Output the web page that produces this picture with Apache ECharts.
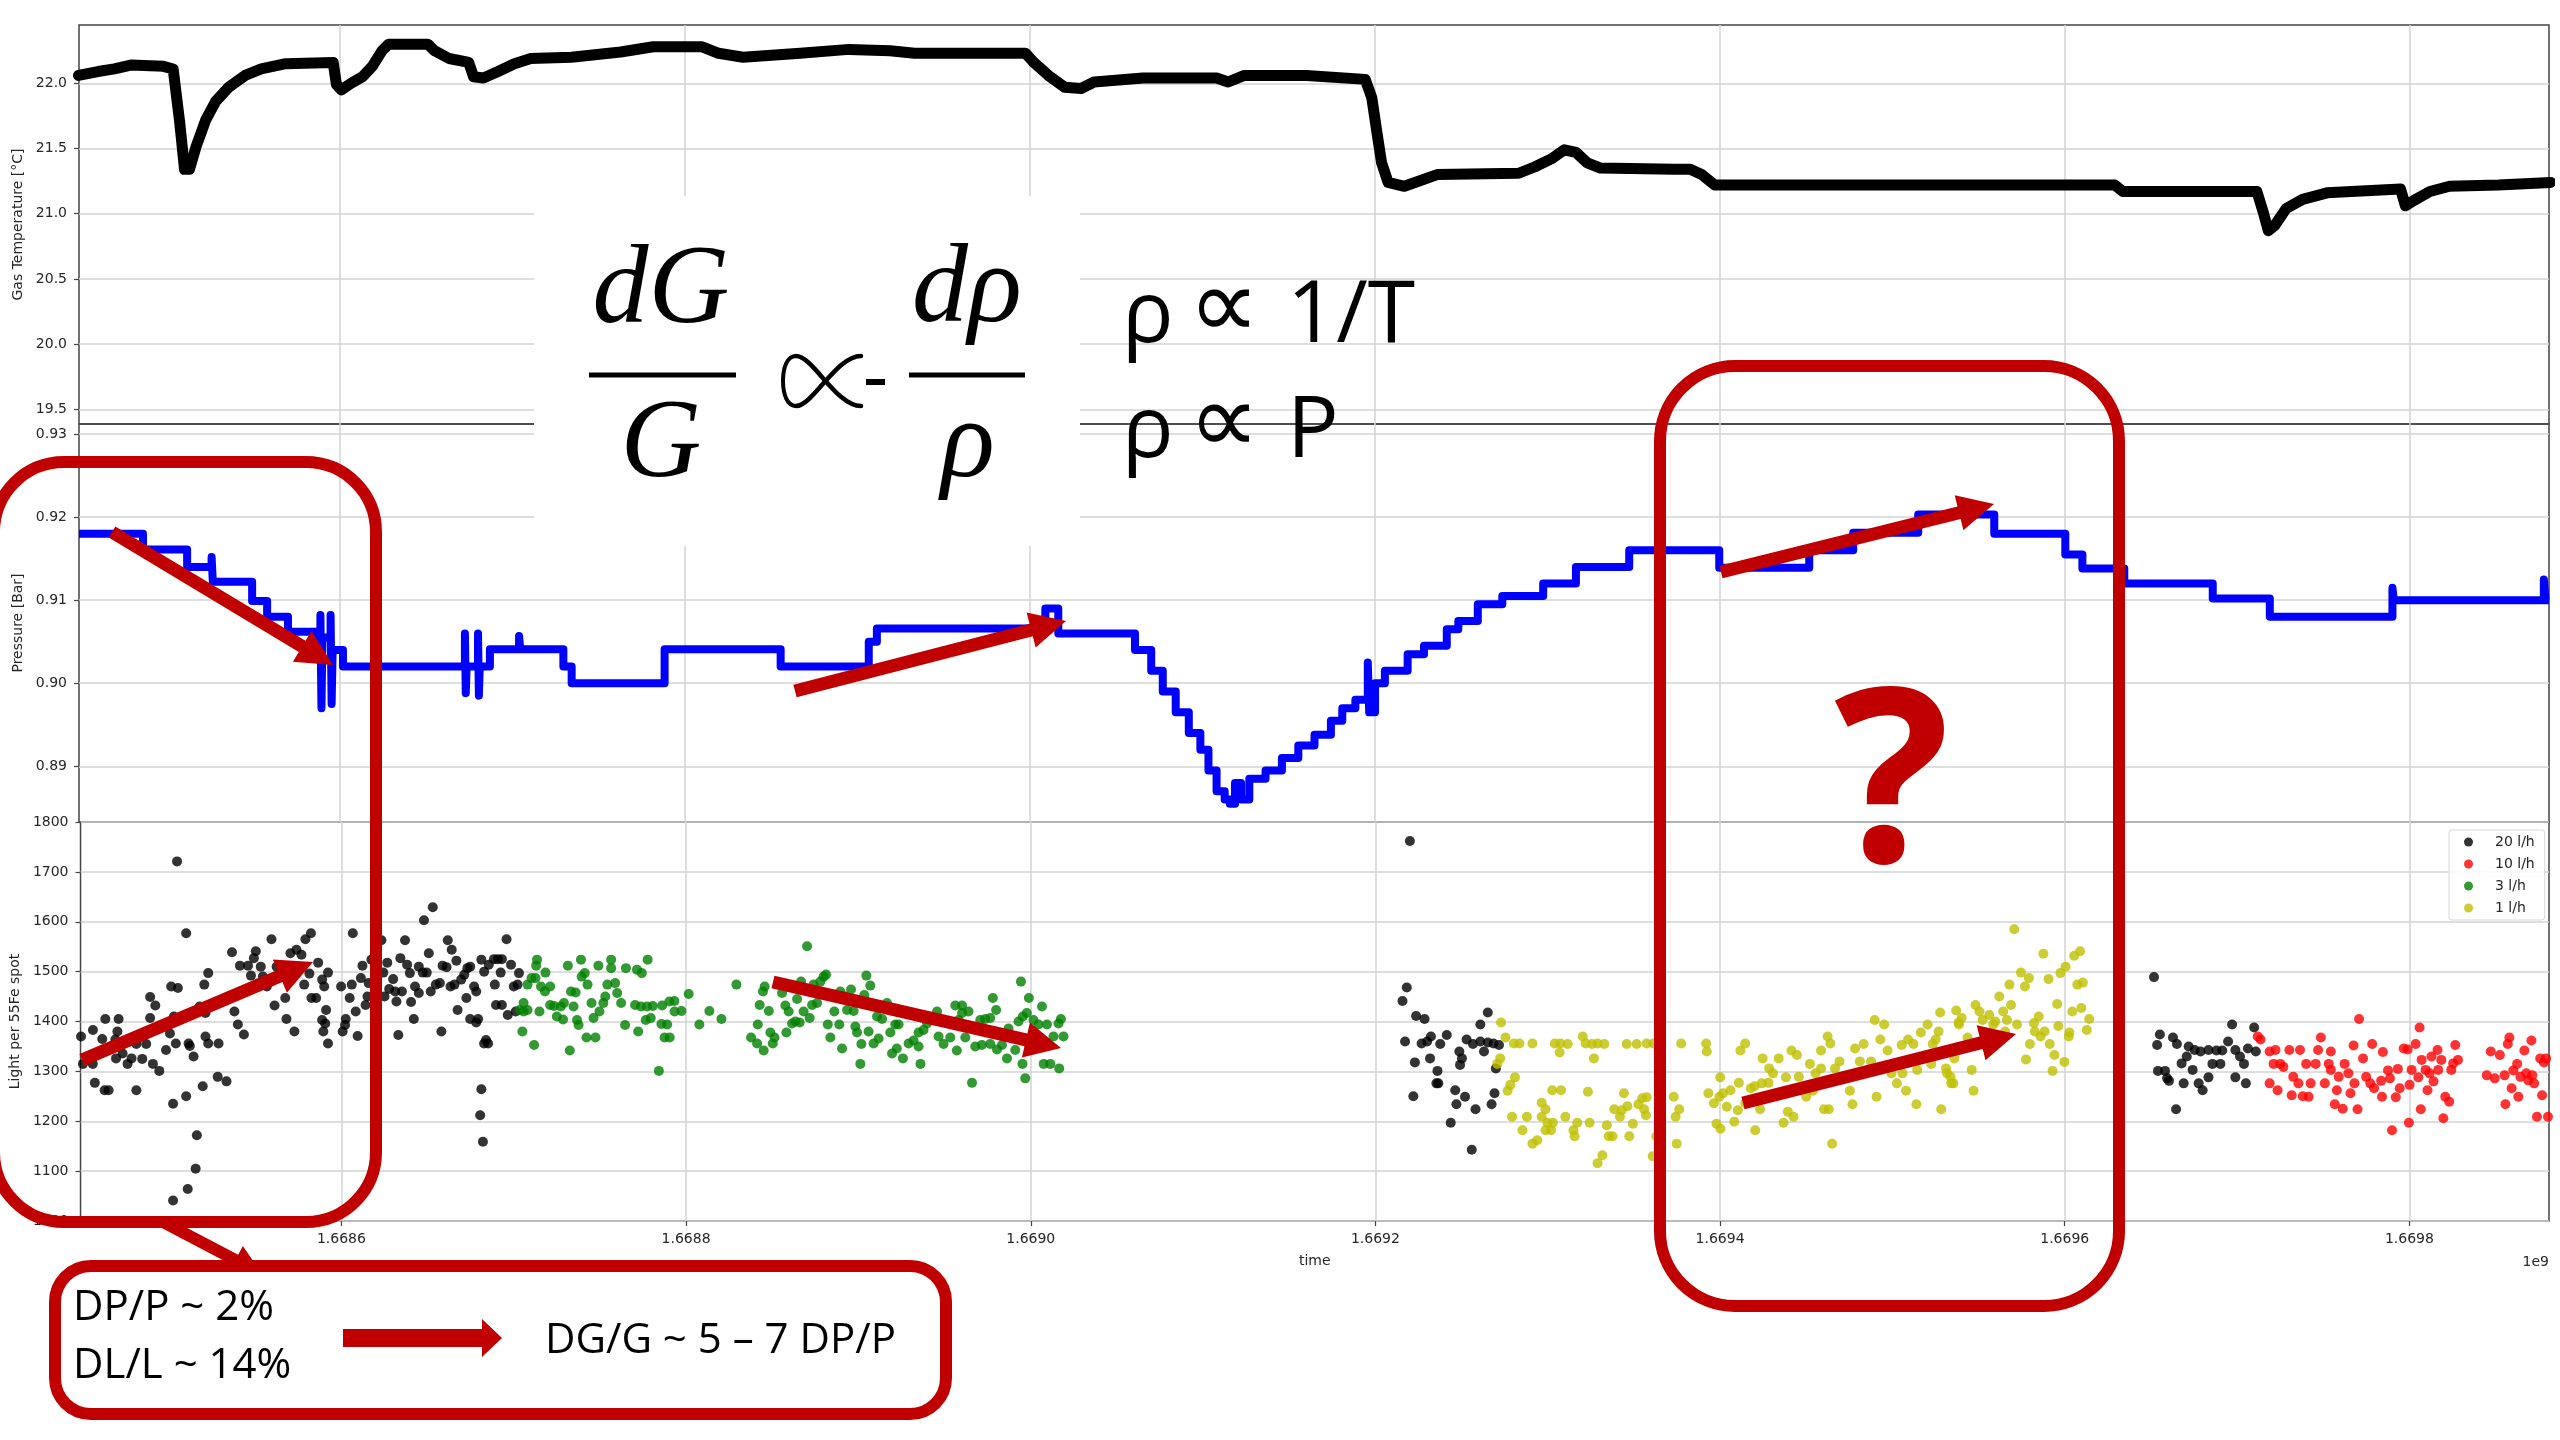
<!DOCTYPE html>
<html>
<head>
<meta charset="utf-8">
<script src="https://cdn.jsdelivr.net/npm/echarts@6/dist/echarts.min.js"></script>
<style>html,body{margin:0;padding:0;background:#fff}#c{width:2560px;height:1440px}</style>
</head>
<body>
<div id="c"></div>
<script>
// time axis: kiloseconds after 1.6684e9 s
const X_MIN = 48.6, X_MAX = 1481;
const xTicks = [200, 400, 600, 800, 1000, 1200, 1400];
const tempTicks = [19.5, 20.0, 20.5, 21.0, 21.5, 22.0];
const pressTicks = [0.89, 0.90, 0.91, 0.92, 0.93];
const lightTicks = [1000, 1100, 1200, 1300, 1400, 1500, 1600, 1700, 1800];

const gasTemp = [[48.3,22.06],[59.6,22.09],[69.1,22.11],[78.6,22.14],[97.5,22.13],[103.2,22.11],[107.0,21.70],[109.8,21.34],[112.7,21.34],[116.4,21.51],[122.1,21.72],[127.8,21.86],[135.4,21.97],[144.9,22.06],[154.3,22.11],[168.5,22.15],[196.0,22.16],[197.9,21.99],[200.7,21.95],[206.4,22.00],[213.0,22.05],[218.7,22.13],[224.4,22.25],[228.2,22.30],[250.9,22.30],[254.7,22.25],[263.2,22.19],[274.6,22.16],[277.4,22.05],[283.1,22.04],[291.6,22.09],[301.1,22.15],[310.6,22.19],[334.2,22.20],[362.7,22.24],[381.6,22.28],[410.0,22.28],[419.5,22.23],[433.7,22.20],[466.8,22.23],[495.2,22.26],[518.9,22.25],[533.1,22.23],[597.5,22.23],[602.3,22.16],[610.8,22.06],[620.2,21.97],[629.7,21.96],[637.3,22.01],[665.7,22.04],[708.3,22.04],[715.0,22.01],[724.4,22.06],[760.4,22.06],[794.5,22.03],[798.3,21.89],[801.1,21.64],[804.0,21.39],[807.8,21.24],[817.2,21.21],[836.2,21.30],[883.5,21.31],[893.0,21.36],[902.4,21.42],[910.0,21.49],[916.7,21.47],[923.3,21.39],[930.9,21.35],[973.5,21.34],[983.0,21.34],[989.6,21.30],[997.2,21.22],[1229.2,21.22],[1233.9,21.17],[1311.6,21.17],[1315.3,21.01],[1318.2,20.87],[1322.0,20.91],[1328.6,21.04],[1338.1,21.11],[1352.3,21.16],[1394.9,21.19],[1397.7,21.06],[1402.5,21.10],[1411.9,21.17],[1423.3,21.21],[1451.7,21.22],[1482.0,21.24]];

const pressure = [[48.6,0.918],[85.7,0.9161],[111.3,0.914],[125.5,0.9152],[126.2,0.9122],[149.0,0.9099],[157.7,0.908],[169.8,0.9062],[186.0,0.9055],[188.6,0.9082],[189.2,0.897],[189.8,0.9055],[194.5,0.9082],[195.1,0.8975],[195.7,0.904],[201.7,0.902],[272.4,0.906],[272.9,0.8988],[273.4,0.902],[280.0,0.906],[280.5,0.8985],[281.0,0.902],[286.9,0.9041],[303.8,0.9057],[304.5,0.9041],[329.5,0.902],[334.3,0.900],[388.2,0.9041],[455.5,0.902],[506.6,0.905],[511.3,0.9066],[609.0,0.909],[616.5,0.906],[661.0,0.904],[670.4,0.9015],[677.1,0.899],[684.6,0.8965],[692.2,0.894],[698.9,0.892],[703.6,0.8895],[708.3,0.887],[713.0,0.886],[716.0,0.8855],[719.0,0.888],[722.5,0.886],[727.3,0.8885],[736.7,0.8895],[746.2,0.891],[755.7,0.8925],[765.1,0.8938],[774.6,0.8955],[781.2,0.897],[788.8,0.898],[796.0,0.9025],[796.8,0.8965],[800.2,0.900],[805.9,0.9015],[819.1,0.9035],[828.6,0.9045],[841.8,0.9065],[848.5,0.9075],[859.8,0.9095],[874.0,0.9105],[897.7,0.912],[916.7,0.914],[947.6,0.916],[999.8,0.9139],[1052.0,0.916],[1077.5,0.9181],[1115.2,0.9203],[1159.3,0.918],[1200.5,0.9155],[1210.4,0.9138],[1234.7,0.912],[1286.0,0.9102],[1319.1,0.908],[1390.2,0.9115],[1391.0,0.910],[1478.0,0.9125],[1479.0,0.910],[1481.0,0.910]];

const flow20 = [[104.6,1721],[109.9,1577],[102.3,1041],[110.8,1064],[115.4,1105],[116.1,1172],[102.3,1235],[109.9,1250],[119.5,1270],[128.2,1289],[133.3,1280],[56.9,1277],[62.6,1262],[64.9,1262],[81.0,1262],[48.9,1370],[50.0,1315],[55.7,1315],[55.8,1383],[61.2,1365],[63.0,1405],[68.8,1364],[69.2,1326],[70.7,1405],[70.0,1380],[73.0,1336],[75.9,1315],[78.2,1326],[81.0,1355],[84.4,1325],[86.7,1355],[89.0,1407],[89.0,1449],[92.0,1432],[90.6,1315],[94.3,1301],[98.2,1343],[100.5,1376],[101.2,1470],[105.1,1467],[102.8,1410],[103.9,1356],[111.3,1356],[112.0,1351],[114.2,1330],[117.7,1430],[120.4,1474],[121.1,1417],[121.1,1370],[122.7,1356],[122.7,1497],[128.7,1356],[136.5,1539],[137.9,1420],[139.9,1394],[143.4,1374],[141.1,1512],[145.8,1512],[147.5,1492],[150.3,1541],[149.2,1527],[153.2,1510],[154.4,1490],[151.6,1476],[156.7,1470],[159.0,1480],[159.4,1565],[161.2,1432],[162.4,1510],[168.1,1405],[167.4,1447],[170.4,1537],[173.9,1544],[176.8,1534],[172.7,1380],[179.1,1565],[182.3,1577],[178.4,1474],[181.4,1496],[182.6,1447],[185.3,1447],[186.5,1518],[188.8,1484],[190.0,1470],[192.2,1498],[191.1,1423],[188.8,1403],[190.6,1396],[189.5,1380],[192.2,1356],[199.8,1470],[200.7,1380],[202.5,1405],[202.1,1393],[204.8,1447],[206.0,1474],[206.6,1577],[208.3,1420],[209.4,1371],[211.3,1487],[212.2,1512],[214.0,1433],[215.1,1450],[215.8,1477],[217.4,1524],[223.2,1563],[224.3,1498],[225.0,1450],[226.6,1518],[227.7,1465],[230.0,1485],[231.2,1460],[231.9,1440],[233.0,1373],[234.2,1527],[235.1,1460],[236.9,1563],[238.1,1514],[239.7,1497],[240.4,1439],[242.0,1405],[242.7,1470],[244.9,1510],[247.2,1498],[249.5,1498],[244.9,1457],[247.9,1603],[253.0,1629],[250.7,1537],[251.8,1460],[254.8,1474],[257.1,1477],[258.0,1380],[258.7,1512],[261.0,1509],[261.7,1563],[264.0,1544],[263.3,1470],[265.6,1474],[266.7,1522],[267.4,1423],[269.5,1484],[271.3,1494],[273.1,1507],[274.7,1510],[272.5,1447],[274.7,1405],[278.2,1398],[279.3,1405],[277.0,1470],[278.2,1460],[281.2,1524],[282.8,1500],[283.9,1363],[285.1,1356],[282.8,1356],[281.2,1264],[280.5,1212],[282.1,1159],[285.5,1514],[288.5,1525],[290.8,1525],[293.1,1525],[289.0,1474],[289.7,1433],[293.1,1433],[292.4,1498],[295.8,1565],[296.5,1413],[298.4,1514],[300.0,1470],[302.2,1474],[301.1,1420],[303.0,1497],
[820.0,1762],[818.2,1468],[815.7,1441],[823.6,1411],[828.5,1405],[817.2,1360],[826.8,1356],[830.0,1360],[832.2,1370],[837.6,1355],[841.4,1373],[822.9,1318],[831.7,1326],[836.0,1301],[835.4,1276],[836.5,1276],[822.0,1250],[846.3,1262],[847.0,1234],[852.0,1249],[858.1,1224],[843.7,1197],[855.9,1143],[848.7,1340],[850.2,1326],[849.1,1313],[852.9,1364],[856.6,1355],[860.9,1360],[865.2,1358],[868.5,1356],[871.7,1353],[860.9,1394],[865.2,1418],[863.0,1340],[869.9,1306],[869.1,1256],[867.4,1234],
[1251.8,1489],[1255.2,1374],[1253.6,1353],[1262.8,1368],[1265.1,1355],[1254.1,1301],[1258.2,1301],[1259.4,1286],[1260.5,1281],[1269.0,1276],[1264.6,1224],[1267.8,1316],[1270.8,1330],[1271.9,1350],[1275.4,1343],[1278.8,1340],[1283.4,1343],[1288.0,1342],[1291.4,1342],[1274.2,1303],[1277.7,1276],[1280.0,1262],[1283.4,1288],[1285.7,1315],[1290.3,1315],[1297.1,1394],[1294.8,1360],[1299.0,1343],[1301.7,1330],[1304.0,1315],[1299.0,1288],[1305.1,1276],[1306.3,1346],[1309.9,1388],[1310.9,1340]];

const flow10 = [[1312.0,1370],[1313.6,1364],[1318.9,1340],[1321.2,1315],[1322.3,1343],[1325.1,1315],[1326.9,1309],[1318.9,1276],[1323.5,1262],[1330.3,1343],[1332.6,1289],[1335.6,1276],[1336.5,1343],[1331.7,1252],[1338.1,1250],[1341.5,1249],[1342.7,1276],[1340.1,1315],[1345.6,1315],[1347.0,1343],[1348.6,1368],[1350.9,1276],[1353.2,1315],[1354.4,1340],[1354.4,1303],[1357.9,1262],[1356.7,1234],[1361.3,1225],[1359.0,1289],[1362.4,1315],[1364.6,1296],[1365.8,1256],[1367.6,1352],[1368.1,1276],[1369.9,1224],[1370.8,1405],[1373.1,1326],[1374.9,1289],[1377.3,1276],[1378.4,1355],[1379.5,1266],[1383.6,1281],[1384.6,1339],[1387.6,1302],[1388.7,1286],[1384.1,1249],[1389.9,1182],[1392.1,1248],[1393.3,1305],[1394.4,1266],[1396.7,1346],[1399.0,1344],[1399.7,1197],[1400.1,1273],[1401.3,1303],[1403.6,1355],[1405.9,1388],[1406.6,1224],[1405.2,1288],[1407.1,1323],[1409.4,1303],[1410.5,1262],[1411.7,1296],[1412.8,1330],[1414.0,1280],[1416.3,1343],[1416.7,1303],[1418.5,1323],[1419.7,1206],[1420.8,1249],[1423.1,1239],[1424.3,1303],[1425.4,1316],[1426.6,1353],[1428.2,1323],[1444.9,1292],[1447.2,1340],[1449.5,1286],[1452.5,1333],[1455.2,1292],[1455.7,1234],[1457.1,1355],[1458.0,1368],[1459.3,1266],[1460.3,1302],[1462.5,1315],[1463.2,1249],[1464.4,1289],[1466.7,1342],[1467.8,1296],[1469.0,1282],[1470.8,1362],[1471.3,1292],[1472.4,1276],[1474.0,1209],[1475.9,1326],[1477.0,1252],[1478.1,1318],[1479.3,1326],[1480.4,1209]];

const flow3 = [[303.4,1423],[305.7,1437],[305.7,1420],[308.0,1423],[305.0,1380],[308.0,1474],[310.3,1487],[312.6,1487],[311.8,1353],[313.0,1512],[313.5,1524],[314.9,1420],[315.8,1470],[318.1,1460],[321.1,1470],[318.4,1498],[321.1,1433],[323.4,1431],[325.0,1410],[327.3,1430],[329.1,1437],[328.6,1404],[331.4,1512],[332.5,1342],[333.2,1460],[335.9,1458],[334.7,1430],[336.7,1403],[337.6,1393],[339.0,1524],[339.4,1490],[341.2,1497],[342.8,1474],[342.2,1368],[347.4,1368],[345.1,1437],[346.3,1407],[349.1,1512],[349.7,1420],[352.0,1437],[353.1,1450],[354.3,1474],[358.8,1477],[356.5,1507],[356.5,1524],[360.0,1457],[362.3,1437],[364.6,1393],[365.1,1507],[370.4,1433],[373.8,1430],[377.3,1430],[380.7,1431],[371.5,1504],[374.3,1497],[372.2,1380],[377.7,1524],[376.6,1403],[379.5,1407],[384.2,1301],[385.7,1395],[387.5,1368],[390.3,1440],[393.3,1420],
[386.1,1432],[389.0,1394],[390.5,1368],[393.2,1441],[397.3,1421],[401.5,1455],[407.7,1394],[413.5,1421],[420.5,1405],[429.2,1474],[437.7,1368],[441.2,1356],[445.0,1342],[441.6,1394],[442.7,1433],[444.6,1460],[445.6,1470],[448.0,1421],[450.3,1356],[451.3,1368],[448.9,1378],[455.7,1457],[457.6,1432],[458.2,1378],[459.5,1420],[461.5,1396],[463.4,1400],[465.9,1398],[464.4,1445],[466.7,1480],[468.2,1420],[471.7,1407],[470.2,1551],[473.1,1433],[476.0,1437],[474.0,1474],[477.9,1480],[479.8,1490],[481.2,1494],[482.2,1394],[483.7,1368],[486.0,1420],[489.5,1460],[492.4,1450],[488.9,1394],[490.5,1346],[493.4,1423],[495.7,1464],[497.2,1421],[498.2,1390],[499.2,1378],[501.1,1315],[501.7,1355],[503.4,1453],[504.6,1492],[506.9,1472],[505.9,1380],[508.8,1356],[511.7,1366],[510.8,1410],[513.7,1405],[516.6,1437],[518.5,1378],[521.4,1394],[523.3,1394],[519.5,1336],[522.3,1346],[525.8,1326],[529.1,1356],[532.0,1362],[534.9,1378],[537.8,1383],[534.9,1350],[536.0,1315],[539.8,1396],[542.7,1403],[545.6,1420],[546.5,1370],[549.4,1355],[553.3,1368],[557.1,1342],[558.1,1403],[560.1,1417],[556.2,1432],[560.1,1432],[562.0,1368],[563.9,1420],[565.9,1277],[567.8,1350],[570.7,1403],[573.6,1405],[576.5,1407],[571.6,1353],[576.5,1355],[580.4,1344],[583.3,1353],[578.0,1447],[579.9,1423],[586.2,1326],[587.1,1386],[591.0,1343],[592.9,1400],[595.4,1410],[597.7,1417],[594.3,1480],[595.2,1315],[596.8,1286],[598.9,1447],[601.6,1403],[604.5,1394],[609.4,1394],[606.5,1430],[607.5,1315],[611.3,1315],[616.5,1306],[613.2,1370],[616.1,1396],[617.5,1405],[619.0,1370]];

const flow1 = [[872.9,1398],[875.5,1368],[872.4,1326],[870.7,1315],[880.4,1356],[883.6,1356],[891.1,1356],[881.0,1288],[878.3,1273],[876.7,1261],[879.3,1209],[885.3,1182],[887.9,1209],[891.1,1155],[893.9,1162],[896.5,1237],[898.7,1224],[896.5,1209],[899.8,1197],[903.0,1197],[898.7,1182],[901.9,1182],[902.6,1262],[907.7,1262],[904.1,1356],[907.3,1356],[911.6,1355],[906.9,1338],[910.2,1209],[914.9,1182],[915.6,1170],[917.1,1197],[920.3,1370],[922.0,1356],[925.7,1355],[928.9,1356],[932.8,1355],[926.8,1326],[923.3,1259],[924.3,1197],[928.9,1116],[931.7,1132],[934.3,1192],[935.4,1170],[937.6,1170],[938.6,1224],[941.9,1209],[942.9,1222],[946.2,1230],[944.2,1256],[945.8,1355],[951.6,1355],[947.3,1170],[949.4,1195],[952.6,1234],[954.8,1246],[957.4,1248],[955.9,1224],[957.0,1212],[957.4,1356],[961.3,1356],[960.9,1130],[963.0,1170],[964.5,1236],[973.1,1249],[974.2,1209],[976.3,1224],[974.8,1155],[977.4,1356],[991.9,1356],[992.3,1340],[993.2,1256],[997.9,1195],[1000.1,1288],[1000.2,1185],[996.4,1236],[999.6,1249],[1001.7,1256],[1003.9,1229],[1006.0,1262],[1008.2,1199],[1010.3,1222],[1010.9,1277],[1011.8,1342],[1014.6,1356],[1014.6,1236],[1017.8,1266],[1020.4,1182],[1023.2,1224],[1020.0,1270],[1024.2,1276],[1024.7,1326],[1028.5,1306],[1030.7,1296],[1028.1,1277],[1034.0,1326],[1036.8,1197],[1039.3,1219],[1042.6,1209],[1038.2,1288],[1041.4,1342],[1044.6,1333],[1045.7,1289],[1050.0,1249],[1052.1,1315],[1055.4,1296],[1058.6,1306],[1058.6,1342],[1062.4,1370],[1064.0,1356],[1060.3,1224],[1063.1,1224],[1053.9,1261],[1065.0,1155],[1066.7,1306],[1069.3,1320],[1075.3,1261],[1076.8,1234],[1078.3,1346],[1083.3,1355],[1081.1,1320],[1087.6,1320],[1090.8,1249],[1089.7,1403],[1095.2,1394],[1093.0,1364],[1097.2,1342],[1099.4,1296],[1102.6,1276],[1105.8,1296],[1107.9,1261],[1113.9,1234],[1105.4,1353],[1109.1,1364],[1112.2,1355],[1114.4,1303],[1116.5,1378],[1120.4,1394],[1123.4,1355],[1125.1,1364],[1126.8,1380],[1127.7,1418],[1122.5,1315],[1131.1,1306],[1133.7,1289],[1135.4,1276],[1128.3,1224],[1137.0,1422],[1138.4,1398],[1135.9,1326],[1134.1,1276],[1131.7,1296],[1140.2,1407],[1138.6,1394],[1143.6,1368],[1146.0,1303],[1147.1,1261],[1148.2,1433],[1150.5,1420],[1152.3,1403],[1156.2,1413],[1159.7,1400],[1158.5,1394],[1162.0,1450],[1164.3,1420],[1166.5,1403],[1168.8,1433],[1165.4,1380],[1167.9,1474],[1170.7,1585],[1174.6,1498],[1176.9,1470],[1179.2,1487],[1172.3,1394],[1177.5,1324],[1179.8,1355],[1182.1,1397],[1184.9,1410],[1182.6,1380],[1186.0,1370],[1188.3,1380],[1187.6,1536],[1190.6,1485],[1191.3,1355],[1194.0,1333],[1192.9,1301],[1195.6,1435],[1196.3,1391],[1197.5,1497],[1200.5,1510],[1199.8,1319],[1202.3,1370],[1202.7,1378],[1205.5,1532],[1208.9,1541],[1204.4,1420],[1209.6,1427],[1207.3,1474],[1210.5,1478],[1212.8,1383],[1214.2,1405]];

// ---------- chart ----------
const chart = echarts.init(document.getElementById('c'), null, {renderer: 'canvas', width: 2560, height: 1440});
const FONT = 'DejaVu Sans';
const TXT = '#262626';
const GRID_L = 79, GRID_R = 11;
const panels = [{top: 25, height: 399}, {top: 424, height: 398}, {top: 822, height: 399}];

function xAxisFor(i) {
  const bottom = i === 2;
  return {
    type: 'value', gridIndex: i, min: X_MIN, max: X_MAX,
    axisLine: {show: false},
    axisTick: {show: bottom, customValues: xTicks, length: 5, lineStyle: {color: '#444', width: 1.2}},
    axisLabel: {show: bottom, customValues: xTicks, margin: 11, fontFamily: FONT, fontSize: 14, color: TXT,
      formatter: v => (1.6684 + v / 1e6).toFixed(4)},
    splitLine: {show: true, lineStyle: {color: '#d3d3d3', width: 1.5}},
    name: bottom ? 'time' : '', nameLocation: 'middle', nameGap: 33,
    nameTextStyle: {fontFamily: FONT, fontSize: 14, color: TXT}
  };
}
function yAxisFor(i, min, max, ticks, dec, name, gap) {
  return {
    type: 'value', gridIndex: i, min: min, max: max,
    axisLine: {show: false},
    axisTick: {show: true, customValues: ticks, length: 5, lineStyle: {color: '#444', width: 1.2}},
    axisLabel: {customValues: ticks, margin: 12, fontFamily: FONT, fontSize: 14, color: TXT,
      formatter: v => Number(v).toFixed(dec)},
    splitLine: {show: true, lineStyle: {color: '#d3d3d3', width: 1.5}},
    name: name, nameLocation: 'middle', nameRotate: 90, nameGap: gap,
    nameTextStyle: {fontFamily: FONT, fontSize: 14, color: TXT}
  };
}

// ---------- annotation helpers ----------
const RED = '#C00000';
function arrow(tail, tip, shaft, headL, headW, z) {
  const dx = tip[0] - tail[0], dy = tip[1] - tail[1];
  const L = Math.hypot(dx, dy), ux = dx / L, uy = dy / L, nx = -uy, ny = ux;
  const bx = tip[0] - ux * headL, by = tip[1] - uy * headL;
  const s = shaft / 2, h = headW / 2;
  return {type: 'polygon', z: z || 120, silent: true,
    shape: {points: [[tail[0] + nx * s, tail[1] + ny * s], [bx + nx * s, by + ny * s], [bx + nx * h, by + ny * h], tip,
      [bx - nx * h, by - ny * h], [bx - nx * s, by - ny * s], [tail[0] - nx * s, tail[1] - ny * s]]},
    style: {fill: RED}};
}
function rbox(x, y, w, h, r, fill, z) {
  return {type: 'rect', z: z || 110, silent: true, shape: {x: x, y: y, width: w, height: h, r: r},
    style: {fill: fill || 'transparent', stroke: RED, lineWidth: 12}};
}
// text placed by its baseline: top of em box = baseline - asc*size
function txt(x, base, text, size, family, opts) {
  opts = opts || {};
  const asc = opts.asc || 0.79;
  return {type: 'text', z: opts.z || 130, silent: true, x: x, y: base - asc * size,
    style: {text: text, font: (opts.style || '') + ' ' + size + 'px ' + family, fill: opts.color || '#000',
      align: opts.align || 'left', verticalAlign: 'top'}};
}
function midText(x, y, text, font) {
  return {type: 'text', z: 130, silent: true, x: x, y: y,
    style: {text: text, font: font, fill: '#000', align: 'center', verticalAlign: 'middle'}};
}
function curve(p1, c1, c2, p2, w) {
  return {type: 'bezierCurve', z: 130, silent: true,
    shape: {x1: p1[0], y1: p1[1], cpx1: c1[0], cpy1: c1[1], cpx2: c2[0], cpy2: c2[1], x2: p2[0], y2: p2[1]},
    style: {stroke: '#000', lineWidth: w, fill: null, lineCap: 'round'}};
}
const SERIF = '"Liberation Serif", "DejaVu Serif", serif';
const SANS = '"Open Sans", "DejaVu Sans", sans-serif';

const graphics = [
  // formula panel
  {type: 'rect', z: 100, silent: true, shape: {x: 534, y: 196, width: 546, height: 350}, style: {fill: '#fff'}},
  txt(661, 328, 'dG', 112, SERIF, {style: 'italic', align: 'center', asc: 0.82}),
  {type: 'rect', z: 130, silent: true, shape: {x: 589, y: 372.5, width: 147, height: 5}, style: {fill: '#000'}},
  txt(661, 482, 'G', 112, SERIF, {style: 'italic', align: 'center', asc: 0.82}),
  // proportional-to sign (thin, Computer-Modern style)
  curve([861, 356], [836, 356], [813, 406], [796, 406], 4.5),
  curve([796, 406], [787, 406], [783, 394], [783, 381], 4),
  curve([783, 381], [783, 368], [787, 356], [796, 356], 4),
  curve([796, 356], [813, 356], [836, 406], [861, 406], 4.5),
  {type: 'rect', z: 130, silent: true, shape: {x: 866, y: 379, width: 19, height: 6}, style: {fill: '#000'}},
  txt(967, 327, 'dρ', 112, SERIF, {style: 'italic', align: 'center', asc: 0.82}),
  {type: 'rect', z: 130, silent: true, shape: {x: 909, y: 372.5, width: 116, height: 5}, style: {fill: '#000'}},
  txt(968, 482, 'ρ', 112, SERIF, {style: 'italic', align: 'center', asc: 0.82}),
  txt(1122, 342, 'ρ', 86, SANS),
  midText(1224, 312, '∝', '100px "DejaVu Sans", sans-serif'),
  txt(1287, 342, '1/T', 86, SANS),
  txt(1122, 457, 'ρ', 86, SANS),
  midText(1224, 427, '∝', '100px "DejaVu Sans", sans-serif'),
  txt(1287, 457, 'P', 86, SANS),
  // boxes
  rbox(-6, 462, 382, 760, 70),
  rbox(1660, 366, 459, 940, 75),
  // arrows on the plot
  arrow([112, 532], [333, 665], 13, 36, 36),
  arrow([82, 1060], [313, 962], 13, 36, 36),
  arrow([795, 691], [1066, 621], 13, 36, 36),
  arrow([773, 982], [1061, 1048], 13, 36, 36),
  arrow([1721, 572], [1994, 504], 13, 36, 36),
  arrow([1743, 1103], [2016, 1034], 13, 36, 36),
  // big question mark
  txt(1892, 858, '?', 242, SANS, {style: 'bold', color: RED, align: 'center', asc: 0.77}),
  // connector and summary box
  arrow([163, 1222], [262, 1274], 12, 30, 32),
  rbox(55, 1266, 891, 148, 36, '#fff', 125),
  txt(73, 1320, 'DP/P ~ 2%', 42, SANS),
  txt(73, 1378, 'DL/L ~ 14%', 42, SANS),
  arrow([343, 1338], [502, 1338], 18, 20, 38, 140),
  txt(545, 1353, 'DG/G ~ 5 – 7 DP/P', 42, SANS),
  // offset text
  {type: 'text', z: 5, silent: true, x: 2549, y: 1262,
    style: {text: '1e9', font: '14px "DejaVu Sans"', fill: TXT, align: 'right', verticalAlign: 'middle'}}
];

const scatterBase = {type: 'scatter', xAxisIndex: 2, yAxisIndex: 2, symbolSize: 10, clip: true};
chart.setOption({
  animation: false,
  backgroundColor: '#fff',
  grid: panels.map(p => ({left: GRID_L, right: GRID_R, top: p.top, height: p.height, show: true,
    borderColor: '#444', borderWidth: 1.5, backgroundColor: 'transparent', containLabel: false})),
  xAxis: [xAxisFor(0), xAxisFor(1), xAxisFor(2)],
  yAxis: [
    yAxisFor(0, 19.387, 22.447, tempTicks, 1, 'Gas Temperature [°C]', 53),
    yAxisFor(1, 0.8833, 0.9312, pressTicks, 2, 'Pressure [Bar]', 50),
    yAxisFor(2, 1000, 1800, lightTicks, 0, 'Light per 55Fe spot', 57)
  ],
  legend: {
    data: ['20 l/h', '10 l/h', '3 l/h', '1 l/h'], orient: 'vertical', left: 2449, top: 830,
    icon: 'circle', itemWidth: 9, itemHeight: 9, itemGap: 8, padding: [5, 10, 5, 15],
    backgroundColor: 'rgba(255,255,255,0.85)', borderColor: '#d8d8d8', borderWidth: 1, borderRadius: 3,
    textStyle: {fontFamily: FONT, fontSize: 14, color: TXT, lineHeight: 14, padding: [0, 0, 0, 17]}, z: 20
  },
  graphic: graphics,
  series: [
    {name: 'temp', type: 'line', xAxisIndex: 0, yAxisIndex: 0, data: gasTemp, showSymbol: false,
      lineStyle: {color: '#000', width: 11, join: 'round', cap: 'round'}, clip: true},
    {name: 'press', type: 'line', xAxisIndex: 1, yAxisIndex: 1, data: pressure, showSymbol: false, step: 'end',
      lineStyle: {color: '#0000ff', width: 8, join: 'round'}, clip: true},
    Object.assign({}, scatterBase, {name: '20 l/h', data: flow20, itemStyle: {color: '#000000'}}),
    Object.assign({}, scatterBase, {name: '10 l/h', data: flow10, itemStyle: {color: '#ff0000'}}),
    Object.assign({}, scatterBase, {name: '3 l/h', data: flow3, itemStyle: {color: '#008000'}}),
    Object.assign({}, scatterBase, {name: '1 l/h', data: flow1, itemStyle: {color: '#bfbf00'}})
  ]
});
</script>
</body>
</html>
